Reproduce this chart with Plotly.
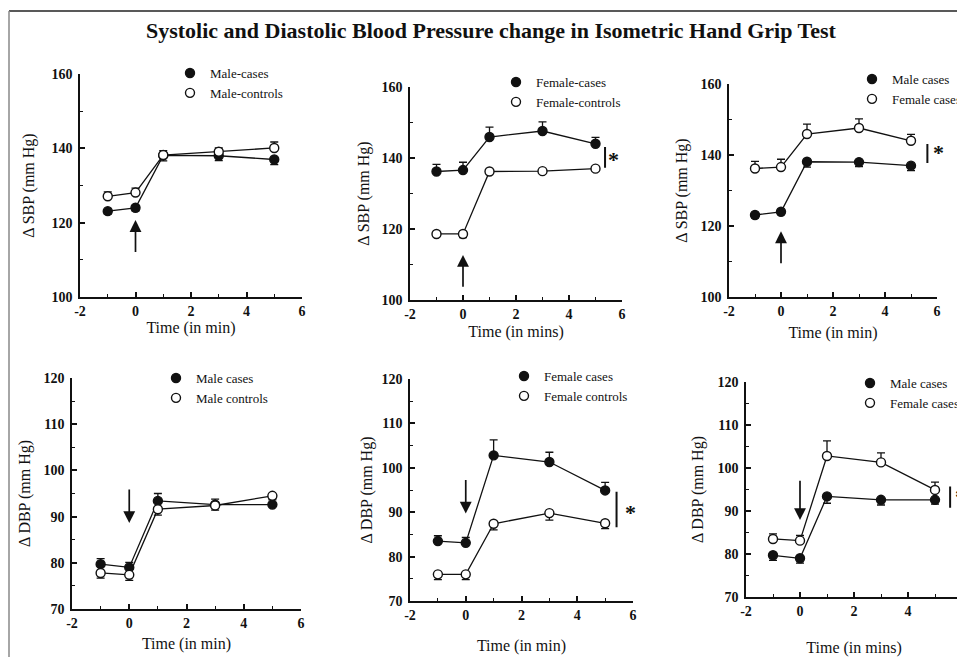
import plotly.graph_objects as go

# ---------------- data ----------------
time = [-1, 0, 1, 3, 5]
x_tick_vals = [-2, 0, 2, 4, 6]
x_tick_text = ["-2", "0", "2", "4", "6"]

sbp_male_cases = [123.1, 124.0, 138.1, 138.0, 137.0]
sbp_male_cases_err = [0.8, 0.8, 1.5, 1.3, 1.4]
sbp_male_controls = [127.1, 128.1, 138.2, 139.1, 140.1]
sbp_male_controls_err = [1.2, 1.2, 1.2, 1.0, 1.6]
sbp_female_cases = [136.2, 136.6, 145.9, 147.6, 144.0]
sbp_female_cases_err = [2.0, 2.2, 2.8, 2.6, 1.8]
sbp_female_controls = [118.6, 118.6, 136.2, 136.3, 137.0]
sbp_female_controls_err = [0.6, 1.0, 0.6, 0.6, 0.6]

dbp_male_cases = [79.7, 79.0, 93.4, 92.6, 92.6]
dbp_male_cases_err = [1.2, 1.1, 1.6, 1.2, 1.0]
dbp_male_controls = [77.8, 77.4, 91.6, 92.4, 94.5]
dbp_male_controls_err = [1.1, 1.2, 1.3, 1.0, 0.6]
dbp_female_cases = [83.5, 83.1, 102.8, 101.3, 94.9]
dbp_female_cases_err = [1.2, 1.2, 3.5, 2.2, 1.8]
dbp_female_controls = [76.0, 76.0, 87.4, 89.8, 87.5]
dbp_female_controls_err = [1.2, 1.2, 1.4, 1.6, 1.2]

title_text = "Systolic and Diastolic Blood Pressure change in Isometric Hand Grip Test"
sbp_label = "\u0394 SBP (mm Hg)"
dbp_label = "\u0394 DBP (mm Hg)"

# ---------------- layout helpers ----------------
# the page body has an 8px margin, so the figure is drawn 8px in from the window corner
OFF = 8
W, H = 965 - OFF, 657 - OFF
def px_x(p):
    return (p - OFF) / W
def px_y(p):
    return 1 - (p - OFF) / H

SERIF = "Liberation Serif"
BLACK = "#111111"
XMIN, XMAX = -2, 6

# panel pixel boxes (window coords): (x0, x1, ytop, ybottom)
boxes = [
    (80, 302, 74, 297),
    (410, 622, 87, 300),
    (729, 937, 84, 297),
    (72, 301, 378, 609),
    (410, 633, 379, 601),
    (746, 962, 382, 597),
]

panels = [
    dict(series=[("Male-cases", sbp_male_cases, sbp_male_cases_err, True, "down"),
                 ("Male-controls", sbp_male_controls, sbp_male_controls_err, False, "up")],
         ylabel=sbp_label, xlabel="Time (in min)", yrange=[100, 160], ydt=20, yminor=10,
         ystand=13, xstand=2, legend_px=(170, 58)),
    dict(series=[("Female-cases", sbp_female_cases, sbp_female_cases_err, True, "up"),
                 ("Female-controls", sbp_female_controls, sbp_female_controls_err, False, "down")],
         ylabel=sbp_label, xlabel="Time (in mins)", yrange=[100, 160], ydt=20, yminor=10,
         ystand=8, xstand=5, legend_px=(496, 67)),
    dict(series=[("Male cases", sbp_male_cases, sbp_male_cases_err, True, "down"),
                 ("Female cases", sbp_female_cases, sbp_female_cases_err, False, "up")],
         ylabel=sbp_label, xlabel="Time (in min)", yrange=[100, 160], ydt=20, yminor=10,
         ystand=9, xstand=9, legend_px=(852, 64)),
    dict(series=[("Male cases", dbp_male_cases, dbp_male_cases_err, True, "up"),
                 ("Male controls", dbp_male_controls, dbp_male_controls_err, False, "down")],
         ylabel=dbp_label, xlabel="Time (in min)", yrange=[70, 120], ydt=10, yminor=5,
         ystand=9, xstand=8, legend_px=(156, 363)),
    dict(series=[("Female cases", dbp_female_cases, dbp_female_cases_err, True, "up"),
                 ("Female controls", dbp_female_controls, dbp_female_controls_err, False, "down")],
         ylabel=dbp_label, xlabel="Time (in min)", yrange=[70, 120], ydt=10, yminor=5,
         ystand=5, xstand=18, legend_px=(504, 361)),
    dict(series=[("Male cases", dbp_male_cases, dbp_male_cases_err, True, "down"),
                 ("Female cases", dbp_female_cases, dbp_female_cases_err, False, "up")],
         ylabel=dbp_label, xlabel="Time (in mins)", yrange=[70, 120], ydt=10, yminor=5,
         ystand=10, xstand=24, legend_px=(850, 368)),
]

onset_arrows = [(111.7, 120.7), (103.3, 112.7), (109.1, 118.5),
                (96.2, 88.6), (97.6, 89.7), (97.4, 87.9)]
sig_marks = {1: (5.36, 143.1, 136.8, 5.68, 139.6),
             2: (5.63, 143.1, 137.3, 6.04, 140.6),
             4: (5.41, 94.6, 86.3, 5.92, 89.9),
             5: (5.56, 95.7, 90.4, 5.93, 93.3)}

fig = go.Figure()
layout = dict(
    width=W, height=H, autosize=False,
    margin=dict(l=0, r=0, t=0, b=0, pad=0, autoexpand=False),
    paper_bgcolor="white", plot_bgcolor="white",
    showlegend=True,
    annotations=[], shapes=[],
)

for i, (p, box) in enumerate(zip(panels, boxes)):
    n = i + 1
    xa = "x" if n == 1 else f"x{n}"
    ya = "y" if n == 1 else f"y{n}"
    lg = "legend" if n == 1 else f"legend{n}"
    x0, x1, yt, yb = box
    axis_common = dict(
        showline=True, linecolor=BLACK, linewidth=1.6, showgrid=False, zeroline=False,
        automargin=False,
        ticks="inside", ticklen=5, tickwidth=1.5, tickcolor=BLACK,
        tickfont=dict(family=SERIF, size=14, color=BLACK, weight="bold"),
        title_font=dict(family=SERIF, size=16, color=BLACK),
    )
    layout["xaxis" if n == 1 else f"xaxis{n}"] = dict(
        axis_common, domain=[px_x(x0), px_x(x1)], anchor=ya,
        range=[XMIN, XMAX], tickmode="array", tickvals=x_tick_vals, ticktext=x_tick_text,
        minor=dict(tickmode="linear", tick0=XMIN, dtick=1, ticks="inside", ticklen=3,
                   tickwidth=1.3, tickcolor=BLACK),
        title=dict(text=p["xlabel"], standoff=p["xstand"]),
    )
    layout["yaxis" if n == 1 else f"yaxis{n}"] = dict(
        axis_common, domain=[px_y(yb), px_y(yt)], anchor=xa,
        range=p["yrange"], tick0=p["yrange"][0], dtick=p["ydt"],
        minor=dict(tick0=p["yrange"][0], dtick=p["yminor"], ticks="inside", ticklen=3,
                   tickwidth=1.3, tickcolor=BLACK),
        ticklabelstandoff=3,
        title=dict(text=p["ylabel"], standoff=p["ystand"]),
    )
    lx, ly = p["legend_px"]
    layout[lg] = dict(x=px_x(lx), y=px_y(ly), xanchor="left", yanchor="top",
                      bgcolor="rgba(0,0,0,0)", font=dict(family=SERIF, size=13, color=BLACK),
                      tracegroupgap=0, itemwidth=30)

    for name, vals, err, filled, direction in p["series"]:
        fig.add_trace(go.Scatter(x=time, y=vals, mode="lines", xaxis=xa, yaxis=ya,
                                 line=dict(color=BLACK, width=1.3), showlegend=False,
                                 hoverinfo="skip"))
    for name, vals, err, filled, direction in p["series"]:
        zeros = [0] * len(err)
        up = err if direction == "up" else zeros
        dn = err if direction == "down" else zeros
        fig.add_trace(go.Scatter(
            x=time, y=vals, mode="markers", name=name, xaxis=xa, yaxis=ya, legend=lg,
            marker=dict(symbol="circle", size=9,
                        color=BLACK if filled else "white",
                        line=dict(color=BLACK, width=1.4)),
            error_y=dict(type="data", symmetric=False, array=up, arrayminus=dn,
                         color=BLACK, thickness=1.3, width=4),
        ))

    tail, tip = onset_arrows[i]
    layout["annotations"].append(dict(
        x=0, y=tip, ax=0, ay=tail, xref=xa, yref=ya, axref=xa, ayref=ya,
        text="", showarrow=True, arrowhead=2, arrowsize=1.4, arrowwidth=1.7,
        arrowcolor=BLACK, standoff=0, startstandoff=0))

    if i in sig_marks:
        sx, sy0, sy1, stx, sty = sig_marks[i]
        layout["annotations"].append(dict(
            x=sx, y=sy0, ax=sx, ay=sy1, xref=xa, yref=ya, axref=xa, ayref=ya,
            text="", showarrow=True, arrowhead=0, arrowwidth=2, arrowcolor=BLACK,
            standoff=0, startstandoff=0))
        # star placed via the axis domain so it may sit just past the axis end
        layout["annotations"].append(dict(
            x=(stx - XMIN) / (XMAX - XMIN), y=sty, xref=f"{xa} domain", yref=ya,
            text="*", showarrow=False,
            font=dict(family=SERIF, size=22, color=BLACK, weight="bold"),
            xanchor="center", yanchor="middle"))

layout["annotations"].append(dict(
    x=px_x(491), y=px_y(31), xref="paper", yref="paper", text=title_text,
    showarrow=False, xanchor="center", yanchor="middle",
    font=dict(family=SERIF, size=22, color=BLACK, weight="bold")))

layout["shapes"].append(dict(type="line", xref="paper", yref="paper",
                             x0=px_x(9), y0=px_y(11), x1=1, y1=px_y(11),
                             line=dict(color="#222222", width=1.5)))
layout["shapes"].append(dict(type="line", xref="paper", yref="paper",
                             x0=px_x(9), y0=px_y(11), x1=px_x(9), y1=0,
                             line=dict(color="#888888", width=1.5)))

fig.update_layout(**layout)
fig.write_html("out.html")
